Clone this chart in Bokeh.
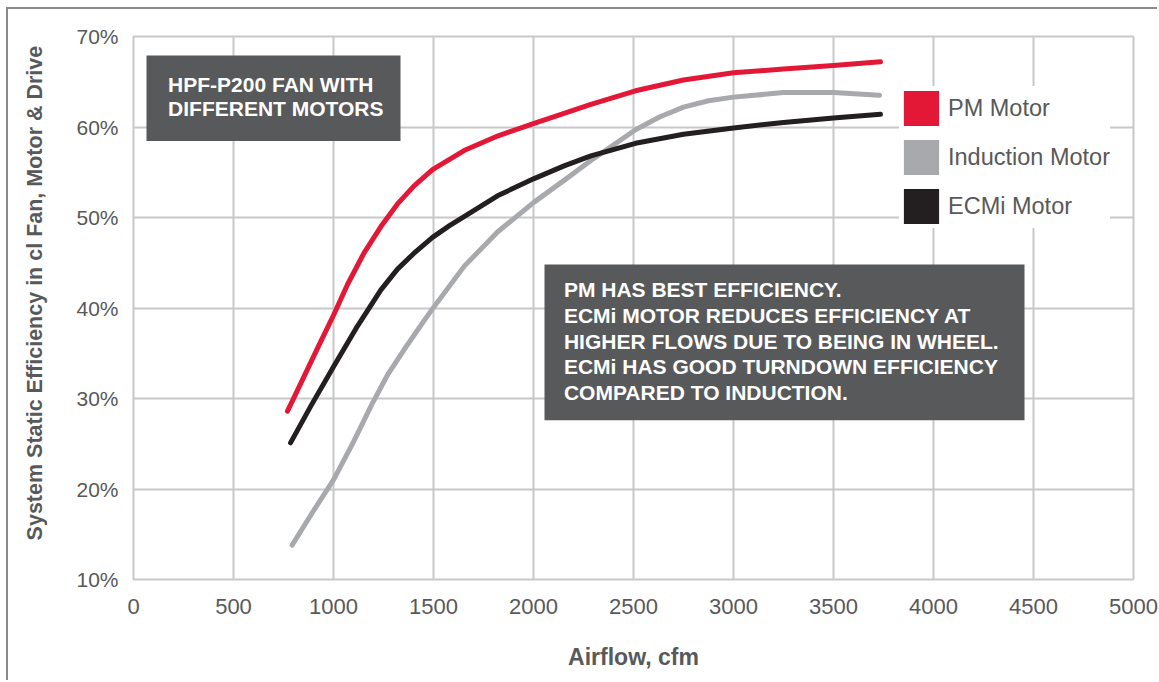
from bokeh.plotting import figure
from bokeh.models import (Range1d, FixedTicker, PrintfTickFormatter, BoxAnnotation,
                          Label, Legend, LegendItem, ColumnDataSource)
from bokeh.embed import file_html
from bokeh.resources import INLINE

# ---- data ----
x_ticks = [0, 500, 1000, 1500, 2000, 2500, 3000, 3500, 4000, 4500, 5000]
y_ticks = [10, 20, 30, 40, 50, 60, 70]

pm_cfm = [770, 850, 930, 1000, 1070, 1153, 1237, 1320, 1403, 1495, 1653, 1820, 2003, 2153, 2287, 2510, 2750, 3000, 3250, 3500, 3735]
pm_eff = [28.6, 32.3, 36.0, 39.2, 42.6, 46.1, 49.0, 51.5, 53.5, 55.3, 57.4, 59.0, 60.4, 61.5, 62.5, 64.0, 65.2, 66.0, 66.4, 66.8, 67.2]

ind_cfm = [793, 900, 1000, 1100, 1193, 1270, 1350, 1453, 1495, 1653, 1820, 2003, 2153, 2287, 2510, 2630, 2750, 2875, 3000, 3250, 3500, 3730]
ind_eff = [13.8, 17.6, 21.0, 25.2, 29.4, 32.6, 35.3, 38.6, 39.9, 44.6, 48.4, 51.7, 54.1, 56.3, 59.7, 61.1, 62.2, 62.9, 63.3, 63.8, 63.8, 63.5]

ecm_cfm = [785, 885, 1000, 1120, 1237, 1320, 1400, 1495, 1580, 1653, 1820, 2003, 2153, 2287, 2510, 2750, 3000, 3250, 3500, 3735]
ecm_eff = [25.1, 29.1, 33.5, 38.0, 42.0, 44.3, 46.0, 47.8, 49.1, 50.1, 52.4, 54.3, 55.7, 56.8, 58.2, 59.2, 59.9, 60.5, 61.0, 61.4]

series_names = ["PM Motor", "Induction Motor", "ECMi Motor"]
series_colors = ["#e31837", "#a7a9ac", "#231f20"]

title_lines = ["HPF-P200 FAN WITH", "DIFFERENT MOTORS"]
note_lines = ["PM HAS BEST EFFICIENCY.",
              "ECMi MOTOR REDUCES EFFICIENCY AT",
              "HIGHER FLOWS DUE TO BEING IN WHEEL.",
              "ECMi HAS GOOD TURNDOWN EFFICIENCY",
              "COMPARED TO INDUCTION."]

FONT = "Liberation Sans"
TXT = "#58595b"
GRID = "#c8c8c8"
BOXC = "#58595b"

p = figure(width=1151, height=673, x_range=Range1d(0, 5000), y_range=Range1d(10, 70),
           output_backend="svg", toolbar_location=None,
           min_border_left=125, min_border_right=26, min_border_top=27, min_border_bottom=103,
           background_fill_color="white", border_fill_color="white",
           styles={"margin-left": "8px", "margin-top": "9px",
                   "box-shadow": "-2px -2px 0 0 #8a8a8a"})

p.outline_line_color = GRID
p.outline_line_width = 2
p.grid.grid_line_color = GRID
p.grid.grid_line_width = 2

p.xaxis.ticker = FixedTicker(ticks=x_ticks)
p.yaxis.ticker = FixedTicker(ticks=y_ticks)
p.xaxis.formatter = PrintfTickFormatter(format="%d")
p.yaxis.formatter = PrintfTickFormatter(format="%d%%")
for ax in p.axis:
    ax.axis_line_color = None
    ax.major_tick_line_color = None
    ax.minor_tick_line_color = None
    ax.major_tick_in = 0
    ax.major_tick_out = 0
    ax.major_label_text_font = FONT
    ax.major_label_text_color = TXT
    ax.axis_label_text_font = FONT
    ax.axis_label_text_font_style = "bold"
    ax.axis_label_text_color = TXT
p.xaxis.major_label_text_font_size = "22px"
p.yaxis.major_label_text_font_size = "21px"
p.xaxis.axis_label_text_font_size = "23px"
p.yaxis.axis_label_text_font_size = "21.5px"
p.xaxis.axis_label = "Airflow, cfm"
# leading no-break spaces nudge the centred rotated label upward, as in the reference
p.yaxis.axis_label = "\u00a0" * 5 + "System Static Efficiency in cl Fan, Motor & Drive"
p.xaxis.major_label_standoff = 19
p.xaxis.axis_label_standoff = 27
p.yaxis.major_label_standoff = 15
p.yaxis.axis_label_standoff = 26

# curves
for xs, ys, c in [(pm_cfm, pm_eff, series_colors[0]),
                  (ind_cfm, ind_eff, series_colors[1]),
                  (ecm_cfm, ecm_eff, series_colors[2])]:
    p.line(xs, ys, line_color=c, line_width=5, line_cap="round", line_join="round")

# annotation boxes
p.add_layout(BoxAnnotation(left=65, right=1335, top=67.9, bottom=58.45,
                           fill_color=BOXC, fill_alpha=1, line_color=None))
p.add_layout(BoxAnnotation(left=2055, right=4455, top=44.8, bottom=27.6,
                           fill_color=BOXC, fill_alpha=1, line_color=None))

for txt, yb in zip(title_lines, [64.75, 62.06]):
    p.add_layout(Label(x=173, y=yb, text=txt, text_color="white", text_font=FONT,
                       text_font_size="21px", text_font_style="bold",
                       text_baseline="alphabetic"))
for txt, yb in zip(note_lines, [42.03, 39.16, 36.28, 33.52, 30.68]):
    p.add_layout(Label(x=2152, y=yb, text=txt, text_color="white", text_font=FONT,
                       text_font_size="21px", text_font_style="bold",
                       text_baseline="alphabetic"))

# legend with square swatches (renderers hold a single NaN so they draw nothing)
nan = float("nan")
items = []
for name, c in zip(series_names, series_colors):
    src = ColumnDataSource(data=dict(l=[nan], r=[nan], t=[nan], b=[nan]))
    r = p.quad(left="l", right="r", top="t", bottom="b", source=src,
               fill_color=c, line_color=None)
    items.append(LegendItem(label=name, renderers=[r]))

legend = Legend(items=items, location=(766, 351), glyph_width=44, glyph_height=44,
                spacing=5, padding=7, label_standoff=5, margin=0,
                label_text_font=FONT, label_text_font_size="23.5px", label_text_color=TXT,
                border_line_color=None, background_fill_color="white", background_fill_alpha=1)
p.add_layout(legend)

open("out.html", "w").write(file_html(p, INLINE))
